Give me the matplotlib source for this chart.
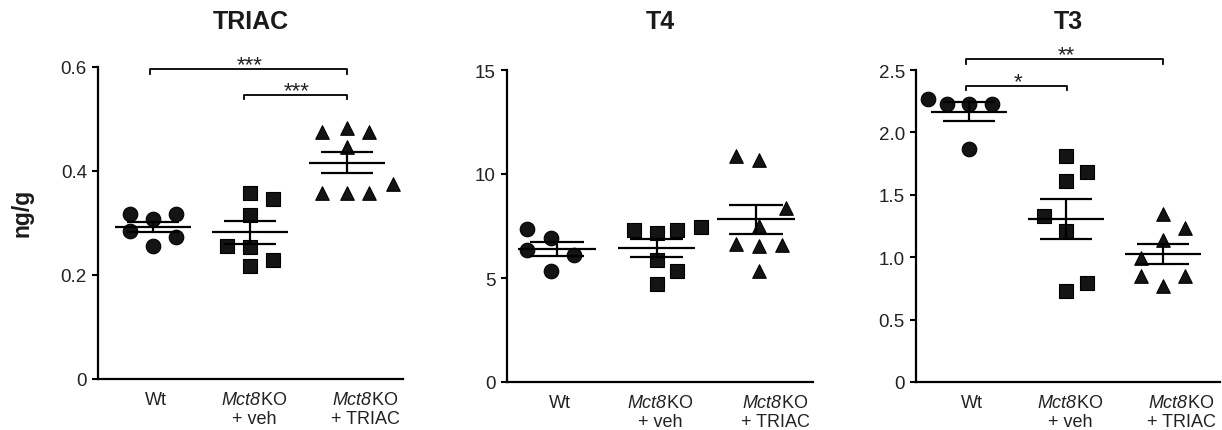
import numpy as np
import matplotlib
matplotlib.use("Agg")
import matplotlib.pyplot as plt

# ==================================================
# DATA
# ==================================================

groups = ["Wt", "$\\mathsf{Mct8}$KO\n+ veh", "$\\mathsf{Mct8}$KO\n+ TRIAC"]
titles = ["TRIAC", "T4", "T3"]

# TRIAC (ng/g)
triac_wt = [0.317, 0.307, 0.317, 0.285, 0.274, 0.255]
triac_veh = [0.357, 0.346, 0.315, 0.256, 0.253, 0.218, 0.228]
triac_triac = [0.475, 0.483, 0.475, 0.447, 0.358, 0.358, 0.358, 0.375]

# T4 (ng/g)
t4_wt = [7.35, 6.9, 6.35, 6.1, 5.35]
t4_veh = [7.32, 7.16, 7.32, 7.47, 5.88, 5.35, 4.71]
t4_triac = [10.88, 10.67, 8.37, 7.51, 6.63, 6.55, 6.6, 5.32]

# T3 (ng/g)
t3_wt = [2.27, 2.23, 2.23, 2.23, 1.87]
t3_veh = [1.81, 1.61, 1.68, 1.33, 1.21, 0.73, 0.79]
t3_triac = [1.35, 1.23, 1.14, 0.99, 0.85, 0.77, 0.85]

# y axis ticks
triac_ticks = [0, 0.2, 0.4, 0.6]
triac_ticklabels = ["0", "0.2", "0.4", "0.6"]
t4_ticks = [0, 5, 10, 15]
t4_ticklabels = ["0", "5", "10", "15"]
t3_ticks = [0, 0.5, 1.0, 1.5, 2.0, 2.5]
t3_ticklabels = ["0", "0.5", "1.0", "1.5", "2.0", "2.5"]

# significance: (group a, group b, stars)
triac_sig = [(0, 2, "***"), (1, 2, "***")]
t3_sig = [(0, 2, "**"), (0, 1, "*")]

# ==================================================
# LAYOUT / STYLE
# ==================================================

# horizontal scatter of points inside each group (layout only)
triac_dx = [[-0.24, 0, 0.24, -0.24, 0.24, 0],
            [0, 0.24, 0, -0.24, 0, 0, 0.24],
            [-0.26, 0, 0.23, 0, -0.26, 0, 0.23, 0.48]]
t4_dx = [[-0.3, -0.06, -0.3, 0.17, -0.06],
         [-0.23, 0, 0.21, 0.45, 0, 0.21, 0],
         [-0.2, 0.03, 0.3, 0.03, -0.2, 0.03, 0.26, 0.03]]
t3_dx = [[-0.43, -0.23, 0, 0.23, 0],
         [0, 0, 0.22, -0.23, 0, 0, 0.22],
         [0, 0.23, 0, -0.23, -0.23, 0, 0.23]]

markers = ["o", "s", "^"]
marker_sizes = [110, 100, 95]
label_shift = [0.03, 0.04, 0.19]
ink = "#141414"
text_col = "#222222"

plt.rcParams['font.family'] = ['Liberation Sans', 'DejaVu Sans']
plt.rcParams['mathtext.fontset'] = 'custom'
plt.rcParams['mathtext.sf'] = 'Liberation Sans:italic'
plt.rcParams['mathtext.it'] = 'Liberation Sans:italic'
plt.rcParams['mathtext.rm'] = 'Liberation Sans'

W, H = 1222, 431
fig = plt.figure(figsize=(W / 100, H / 100), dpi=100)


def px_axes(left, right, bottom, top):
    return fig.add_axes([left / W, 1 - bottom / H, (right - left) / W, (bottom - top) / H])


def draw_panel(ax, data, dxs, ticks, ticklabels, xlim):
    for i, (vals, dx) in enumerate(zip(data, dxs)):
        vals = np.array(vals)
        x = i + np.array(dx)
        ax.scatter(x, vals, marker=markers[i], s=marker_sizes[i], color=ink,
                   edgecolor="black", linewidth=0.8, zorder=3, clip_on=False)
        mean = vals.mean()
        sem = vals.std(ddof=1) / np.sqrt(len(vals))
        ax.hlines(mean, i - 0.39, i + 0.39, color="black", lw=1.6, zorder=4)
        ax.hlines([mean - sem, mean + sem], i - 0.27, i + 0.27, color="black", lw=1.6, zorder=4)
        ax.vlines(i, mean - sem, mean + sem, color="black", lw=1.6, zorder=4)

    ax.set_xlim(xlim)
    ax.set_ylim(ticks[0], ticks[-1])
    ax.set_yticks(ticks)
    ax.set_yticklabels(ticklabels)
    ax.set_xticks([i + s for i, s in enumerate(label_shift)])
    ax.set_xticklabels(groups, linespacing=1.1)
    ax.tick_params(axis="x", length=0, pad=9, labelsize=13, labelcolor=text_col)
    ax.tick_params(axis="y", length=4, width=1.5, pad=4, labelsize=13.5, labelcolor=text_col)
    for side in ["top", "right"]:
        ax.spines[side].set_visible(False)
    for side in ["left", "bottom"]:
        ax.spines[side].set_linewidth(1.6)


def bracket(ax, a, b, y, drop, stars):
    ax.plot([a - 0.03, a - 0.03, b, b], [y - drop, y, y, y - drop],
            color="black", lw=1.3, clip_on=False)
    ax.annotate(stars, xy=((a + b) / 2, y), xytext=(0, -1), textcoords="offset points",
                ha="center", va="baseline", fontsize=16, color=text_col,
                annotation_clip=False)


# ==================================================
# PANELS
# ==================================================

ax1 = px_axes(98, 403, 380, 68)
draw_panel(ax1, [triac_wt, triac_veh, triac_triac], triac_dx,
           triac_ticks, triac_ticklabels, (-0.57, 2.58))
bracket(ax1, triac_sig[0][0], triac_sig[0][1], 0.597, 0.01, triac_sig[0][2])
bracket(ax1, triac_sig[1][0] - 0.03, triac_sig[1][1], 0.546, 0.008, triac_sig[1][2])

ax2 = px_axes(507, 813, 383, 71)
draw_panel(ax2, [t4_wt, t4_veh, t4_triac], t4_dx,
           t4_ticks, t4_ticklabels, (-0.5, 2.57))

ax3 = px_axes(916, 1220, 383, 71)
draw_panel(ax3, [t3_wt, t3_veh, t3_triac], t3_dx,
           t3_ticks, t3_ticklabels, (-0.55, 2.59))
bracket(ax3, t3_sig[0][0], t3_sig[0][1], 2.59, 0.04, t3_sig[0][2])
bracket(ax3, t3_sig[1][0], t3_sig[1][1] + 0.01, 2.375, 0.035, t3_sig[1][2])

# titles sit at the same height in every panel
for ax, t in zip([ax1, ax2, ax3], titles):
    box = ax.get_position()
    fig.text(box.x0 + box.width / 2, 1 - 22 / H, t, ha="center", va="center",
             fontsize=18, fontweight="bold", color="#1a1a1a")

fig.text(22 / W, 1 - 213 / H, "ng/g", rotation=90, ha="center", va="center",
         fontsize=16.5, fontweight="bold", color="#1a1a1a")

plt.savefig("out.png", dpi=100)
